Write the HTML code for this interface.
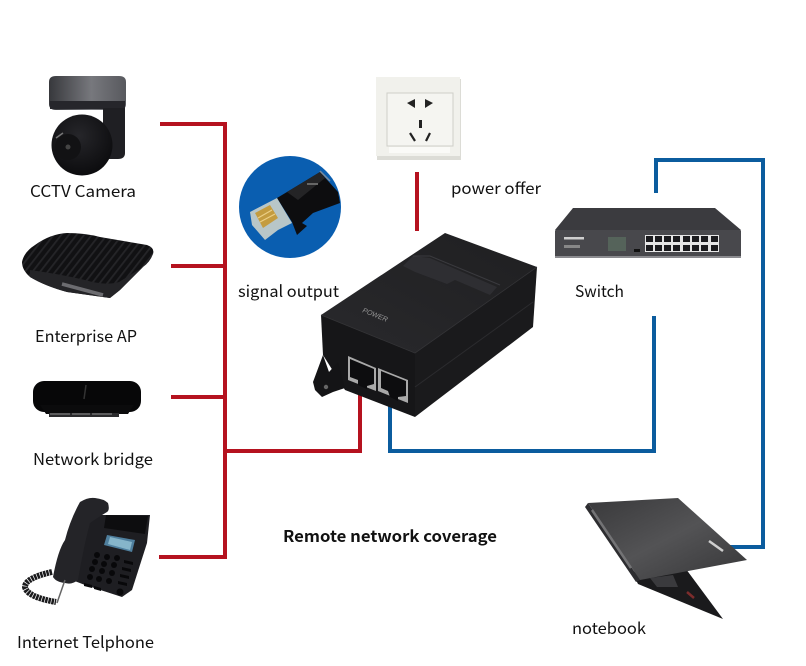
<!DOCTYPE html>
<html><head><meta charset="utf-8"><style>
html,body{margin:0;padding:0;background:#fff}
svg{display:block}
text{font-family:"Noto Sans CJK SC","Liberation Sans",sans-serif;font-size:16px;fill:#111}
</style></head><body>
<svg width="806" height="666" viewBox="0 0 806 666" xmlns="http://www.w3.org/2000/svg">
<defs>
<linearGradient id="cap" x1="0" x2="1" y1="0" y2="0"><stop offset="0" stop-color="#37383c"/><stop offset=".55" stop-color="#77787d"/><stop offset="1" stop-color="#58595e"/></linearGradient>
<radialGradient id="ball" cx=".45" cy=".35" r=".7"><stop offset="0" stop-color="#26262a"/><stop offset="1" stop-color="#0a0a0c"/></radialGradient>
<linearGradient id="lid" x1="0" x2="1" y1="0" y2="1"><stop offset="0" stop-color="#39393b"/><stop offset=".5" stop-color="#535355"/><stop offset="1" stop-color="#363638"/></linearGradient>
<linearGradient id="top" x1="0" x2="1" y1="1" y2="0"><stop offset="0" stop-color="#29292c"/><stop offset="1" stop-color="#1f1f21"/></linearGradient>
<pattern id="stripes" width="6" height="6" patternUnits="userSpaceOnUse" patternTransform="rotate(38)"><rect width="6" height="6" fill="#111113"/><rect width="1.800" height="6" fill="#252528"/></pattern>
</defs>
<rect width="806" height="666" fill="#fff"/>

<!-- wires -->
<g fill="none" stroke="#b5121f" stroke-width="4">
<path d="M160 124H225V557H159"/>
<path d="M171 266H225M171 397H225"/>
<path d="M225 451H360V392"/>
<path d="M417 172V231"/>
</g>
<g fill="none" stroke="#0b5c9e" stroke-width="4">
<path d="M390 400V451H654V316"/>
<path d="M656 193V160H763V547H730"/>
</g>

<!-- camera -->
<path d="M49 82Q49 76 56 76H119Q126 76 126 82V104Q126 110 119 110H56Q49 110 49 104Z" fill="url(#cap)"/>
<rect x="50" y="101" width="75" height="8" fill="#26262b"/>
<path d="M103 108H125V153Q125 159 118 159H103Z" fill="#1f1f23"/>
<circle cx="82" cy="145" r="30.500" fill="url(#ball)"/>
<circle cx="68" cy="147" r="13" fill="#121214"/>
<circle cx="68" cy="147" r="2.500" fill="#444"/>
<path d="M56 138L63 133" stroke="#777" stroke-width="1.500"/>

<!-- AP -->
<path d="M22 262Q24 252 35 245Q50 234 67 233Q85 233 100 237L147 245Q155 248 153 254Q150 262 143 267Q130 280 120 290L110 298L67 292Q45 286 30 277Q22 270 22 262Z" fill="url(#stripes)"/>
<path d="M30 270Q60 274 85 280Q105 286 119 282L143 267Q130 280 120 290L110 298L67 292Q45 286 30 277Z" fill="#242427"/>
<path d="M62 284L103 295" stroke="#6c6c70" stroke-width="3.500"/>

<!-- bridge -->
<rect x="33" y="381" width="108" height="31" rx="11" fill="#070708"/>
<path d="M40 405H134L128 414H46Z" fill="#0b0b0c"/>
<rect x="49" y="413" width="70" height="4" fill="#2b2b2d"/>
<path d="M86 385L84 399" stroke="#333" stroke-width="1.500"/>
<path d="M50 414h20M72 414h18M92 414h20" stroke="#8d8d8d"/>

<!-- phone -->
<path d="M90 515H150L147 543L132 590L122 597L85 585L72 580Z" fill="#1e1e22"/>
<path d="M106 515L148 516L145 534L104 528Z" fill="#0d0d0f"/>
<path d="M107 535L135 540L132 552L104 545Z" fill="#4f7f9e"/>
<path d="M110 537L132 542L130 550L108 544Z" fill="#86b5ca"/>
<path d="M53 577Q58 550 65 540Q70 520 80 502Q88 497 95 498Q104 499 108 503Q110 510 107 512Q97 518 90 523Q84 545 78 580Q72 585 65 583Q56 582 53 577Z" fill="#242428"/>
<g fill="#08080a">
<circle cx="97" cy="555" r="3"/><circle cx="107" cy="557" r="3"/><circle cx="117" cy="558" r="3"/>
<circle cx="95" cy="562" r="3"/><circle cx="104" cy="564" r="3"/><circle cx="114" cy="565" r="3"/>
<circle cx="92" cy="569" r="3"/><circle cx="102" cy="571" r="3"/><circle cx="112" cy="573" r="3"/>
<circle cx="90" cy="577" r="3"/><circle cx="99" cy="579" r="3"/><circle cx="109" cy="581" r="3"/>
<circle cx="120" cy="592" r="3.500"/>
<path d="M124 560l9 2v3l-9-2zM122 567l9 2v3l-9-2zM120 574l9 2v3l-9-2zM118 581l9 2v3l-9-2zM84 583l8 2v3l-8-2zM94 586l7 2v3l-7-2z"/>
</g>
<path d="M52 572Q25 578 25 587Q27 597 56 602" fill="none" stroke="#1a1a1c" stroke-width="6" stroke-dasharray="2.500 .7"/>
<path d="M65 580L57 603" stroke="#666" stroke-width="1.500"/>

<!-- socket -->
<rect x="377" y="79" width="84" height="81" fill="#dcdcd6"/>
<rect x="376" y="77" width="84" height="79" fill="#f1f1ec"/>
<rect x="387" y="93" width="66" height="53" fill="#f5f5f1" stroke="#cfcfc9"/>
<path d="M389 147H450V153H389Z" fill="#fafaf7"/>
<g fill="#222"><path d="M415 99L407 103L415 108Z"/><path d="M425 99L433 103L425 108Z"/><rect x="419" y="120" width="3" height="8"/></g>
<path d="M410 133l5 8M430 133l-4 8" stroke="#222" stroke-width="2.200"/>

<!-- RJ45 -->
<circle cx="290" cy="207" r="51" fill="#0a5eb0"/>
<path d="M320 172L338 192L340 203L313 213L302 223L307 226L297 235L292 222L277 198L287 192Z" fill="#0d0d0f"/>
<path d="M287 192L320 172L325 178L298 200Z" fill="#242426"/>
<path d="M320 171L330 181" stroke="#7e8c9c" stroke-width="1.500"/>
<path d="M307 184H318" stroke="#666" stroke-width="2"/>
<path d="M250 212L277 198L292 223L278 230L265 240L252 225Z" fill="#b8c6c8"/>
<path d="M255 213L270 205L278 218L263 228Z" fill="#c49c40"/>
<path d="M258 218L272 210M260 222L275 214" stroke="#eccf86" stroke-width="1.200"/>

<!-- PoE injector -->
<path d="M321 315L445 233L537 267L415 353Z" fill="url(#top)"/>
<path d="M415 353L537 267L533 327L415 417Z" fill="#1a1a1c"/>
<path d="M321 315L415 353V417L345 390L323 355Z" fill="#161618"/>
<path d="M415 387L533 302" stroke="#2b2b2e" stroke-width="1"/>
<path d="M321 315L415 353L537 267" fill="none" stroke="#333336" stroke-width=".800"/>
<path d="M403 266L413 256L430 258L497 287L490 295L455 280L447 284L415 272Z" fill="#2e2e32"/>
<path d="M413 256L430 256L500 285" stroke="#3a3a3e" fill="none"/>
<path d="M313 382L323 355L329 372L338 362L345 388L333 392L322 397L315 390Z" fill="#141416"/>
<circle cx="326" cy="387" r="2.200" fill="#666"/>
<text x="362" y="312" transform="rotate(22 362 312)" style="font-size:7px;fill:#999;font-style:italic;font-family:'Liberation Sans',sans-serif">POWER</text>
<path d="M348 356L376 368V391L348 380Z" fill="#a9a9a9"/>
<path d="M350 359L374 369V384L367 386V389L358 385V380L350 377Z" fill="#0d0d0f"/>
<path d="M378 368L408 380V403L378 391Z" fill="#a9a9a9"/>
<path d="M381 371L406 381V396L398 397V401L390 397L388 391L381 388Z" fill="#0d0d0f"/>

<!-- switch -->
<path d="M573 208H715L741 230H555Z" fill="#3b3b3f"/>
<rect x="555" y="230" width="186" height="28" rx="1" fill="#48484c"/>
<rect x="555" y="256" width="186" height="2" fill="#8b8b8f"/>
<rect x="645" y="235" width="74" height="17" fill="#e5e5e5"/>
<g fill="#1b1b1e">
<rect x="646" y="236" width="7" height="6"/><rect x="655" y="236" width="7" height="6"/><rect x="664" y="236" width="7" height="6"/><rect x="673" y="236" width="7" height="6"/><rect x="683" y="236" width="7" height="6"/><rect x="692" y="236" width="7" height="6"/><rect x="701" y="236" width="7" height="6"/><rect x="711" y="236" width="7" height="6"/>
<rect x="646" y="245" width="7" height="6"/><rect x="655" y="245" width="7" height="6"/><rect x="664" y="245" width="7" height="6"/><rect x="673" y="245" width="7" height="6"/><rect x="683" y="245" width="7" height="6"/><rect x="692" y="245" width="7" height="6"/><rect x="701" y="245" width="7" height="6"/><rect x="711" y="245" width="7" height="6"/>
</g>
<rect x="564" y="237" width="20" height="2.500" fill="#cfcfcf"/>
<rect x="564" y="245" width="16" height="3" fill="#888"/>
<rect x="608" y="237" width="18" height="14" fill="#55635a"/>
<rect x="634" y="249" width="6" height="3" fill="#111"/>

<!-- laptop -->
<path d="M632 572L683 565L723 619L638 584Z" fill="#1a1a1c"/>
<path d="M650 578L673 575L678 587L657 587Z" fill="#3a3a3d"/>
<path d="M687 592L694 598" stroke="#7c2c2c" stroke-width="2.500"/>
<path d="M585 507L588 503L640 580L636 582Z" fill="#2d2d30"/>
<path d="M588 503L678 498L747 560L640 580Z" fill="url(#lid)"/>
<path d="M592 510L631 568" stroke="#737375" stroke-width="2.500"/>
<path d="M709 541L723 551" stroke="#cfcfcf" stroke-width="2.500"/>

<!-- labels -->
<text x="30" y="197" textLength="106" lengthAdjust="spacingAndGlyphs">CCTV Camera</text>
<text x="35" y="342" textLength="102" lengthAdjust="spacingAndGlyphs">Enterprise AP</text>
<text x="33" y="465" textLength="120" lengthAdjust="spacingAndGlyphs">Network bridge</text>
<text x="17" y="648" textLength="137" lengthAdjust="spacingAndGlyphs">Internet Telphone</text>
<text x="451" y="194" textLength="90" lengthAdjust="spacingAndGlyphs">power offer</text>
<text x="238" y="297" textLength="101" lengthAdjust="spacingAndGlyphs">signal output</text>
<text x="575" y="297" textLength="49" lengthAdjust="spacingAndGlyphs">Switch</text>
<text x="572" y="634" textLength="74" lengthAdjust="spacingAndGlyphs">notebook</text>
<text x="283" y="542" textLength="214" lengthAdjust="spacingAndGlyphs" style="font-weight:bold">Remote network coverage</text>
</svg>
</body></html>
